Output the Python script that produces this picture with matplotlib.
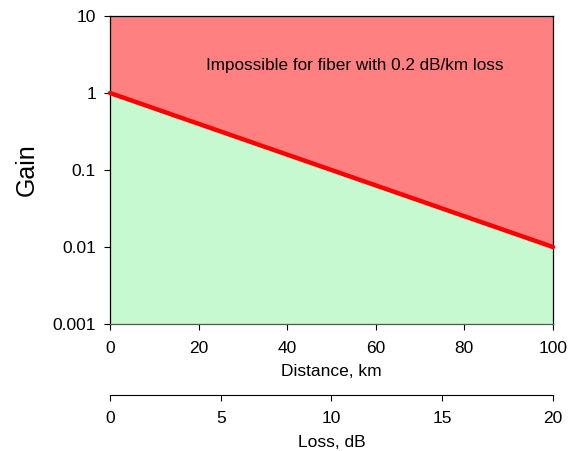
import matplotlib
matplotlib.use("Agg")
import matplotlib.pyplot as plt
import numpy as np

# data
distance_km = [0, 100]
gain = [1.0, 0.01]
loss_per_km = 0.2  # dB/km
x_ticks = [0, 20, 40, 60, 80, 100]
loss_ticks = [0, 5, 10, 15, 20]
y_ticks = [0.001, 0.01, 0.1, 1, 10]
y_labels = ["0.001", "0.01", "0.1", "1", "10"]

plt.rcParams['font.family'] = ['Liberation Sans', 'DejaVu Sans']

fig = plt.figure(figsize=(5.71, 4.51), dpi=100)
ax = fig.add_axes([0.1926, 0.2816, 0.7758, 0.6829])

ax.set_yscale('log')
ax.set_xlim(0, 100)
ax.set_ylim(0.001, 10)

# regions
ax.fill_between(distance_km, gain, 10, color='#FF8080', lw=0)
ax.fill_between(distance_km, 0.001, gain, color='#C6F9D0', lw=0)
ax.plot(distance_km, gain, color='#333333', lw=1, zorder=3)
ax.plot(distance_km, gain, color='#FF0000', lw=3.2, zorder=4,
        solid_capstyle='round', clip_on=False)

ax.text(55.3, 2.25, "Impossible for fiber with 0.2 dB/km loss",
        ha='center', va='center', fontsize=12.3)

ax.set_xticks(x_ticks)
ax.set_xticklabels([str(t) for t in x_ticks], fontsize=12.5)
ax.set_yticks(y_ticks)
ax.set_yticklabels(y_labels, fontsize=12.5)
ax.yaxis.set_minor_locator(matplotlib.ticker.NullLocator())
ax.tick_params(axis='x', direction='out', length=4, width=0.8, pad=8)
ax.tick_params(axis='y', direction='out', length=4, width=0.8, pad=6)
ax.set_xlabel("Distance, km", fontsize=12.5, labelpad=6)
ax.set_ylabel("Gain", fontsize=18)
ax.yaxis.set_label_coords(-0.16, 0.5)

for s in ax.spines.values():
    s.set_linewidth(0.9)
ax.spines['bottom'].set_color('#555555')

# second axis for loss
sec = ax.secondary_xaxis(-0.229, functions=(lambda d: d * loss_per_km,
                                            lambda l: l / loss_per_km))
sec.set_xticks(loss_ticks)
sec.set_xticklabels([str(t) for t in loss_ticks], fontsize=12.5)
sec.tick_params(direction='out', length=4, width=0.8, pad=8)
sec.set_xlabel("Loss, dB", fontsize=12.5, labelpad=6)

fig.savefig("out.png", dpi=100)
